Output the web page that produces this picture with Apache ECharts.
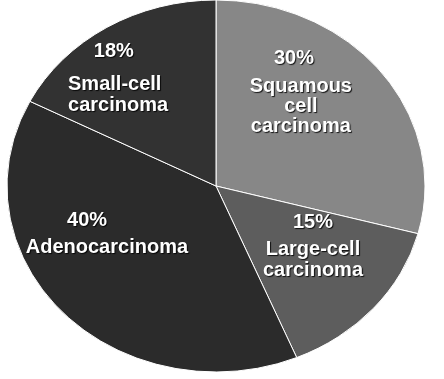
<!DOCTYPE html>
<html>
<head>
<meta charset="utf-8">
<script src="https://cdn.jsdelivr.net/npm/echarts@6/dist/echarts.min.js"></script>
<style>
  html, body { margin: 0; padding: 0; background: #ffffff; }
  #chart { width: 444px; height: 379px; }
</style>
</head>
<body>
<div id="chart"></div>
<script>
// ---- data ----
const categories = ['Squamous\ncell\ncarcinoma', 'Large-cell\ncarcinoma', 'Adenocarcinoma', 'Small-cell\ncarcinoma'];
const values = [30, 15, 40, 18];
const pctLabels = ['30%', '15%', '40%', '18%'];

// ---- styles / layout (not data) ----
const colors = ['#878787', '#5d5d5d', '#2b2b2b', '#323232'];
const geom = { cx: 216, cy: 186, rx: 209, ry: 186 };
// label anchors in units of the ellipse radii, relative to centre
const pctPos = [[0.373, -0.683], [0.464, 0.197], [-0.617, 0.183], [-0.489, -0.722]];
const namePos = [[0.406, -0.430], [0.464, 0.400], [-0.522, 0.333], [-0.708, -0.488]];
const nameAlign = ['center', 'center', 'center', 'left'];
const nameLineHeight = [20, 21, 21, 21.5];

const total = values.reduce((a, b) => a + b, 0);
const starts = [];
values.reduce((acc, v) => { starts.push(acc); return acc + v; }, 0);

const fontFamily = '"Liberation Sans", Arial, sans-serif';
const textBase = {
  fill: '#ffffff',
  fontSize: 20,
  fontWeight: 'bold',
  fontFamily: fontFamily,
  verticalAlign: 'middle',
  textShadowColor: 'rgba(0,0,0,0.85)',
  textShadowOffsetX: 1,
  textShadowOffsetY: 1,
  textShadowBlur: 1
};

function pt(angleFrac) {
  const a = angleFrac * Math.PI * 2; // clockwise from 12 o'clock
  return [geom.cx + geom.rx * Math.sin(a), geom.cy - geom.ry * Math.cos(a)];
}

const chart = echarts.init(document.getElementById('chart'), null, { renderer: 'canvas' });
chart.setOption({
  backgroundColor: '#ffffff',
  animation: false,
  series: [{
    type: 'custom',
    coordinateSystem: 'none',
    data: values.map((v, i) => ({ name: categories[i], value: v })),
    renderItem: function (params, api) {
      const i = params.dataIndex;
      const v = api.value(0);
      const a0 = starts[i] / total;
      const a1 = (starts[i] + v) / total;
      const p0 = pt(a0), p1 = pt(a1);
      const large = (a1 - a0) > 0.5 ? 1 : 0;
      const d = 'M' + geom.cx + ' ' + geom.cy +
        ' L' + p0[0] + ' ' + p0[1] +
        ' A' + geom.rx + ' ' + geom.ry + ' 0 ' + large + ' 1 ' + p1[0] + ' ' + p1[1] + ' Z';
      return {
        type: 'group',
        children: [
          {
            type: 'path',
            shape: { pathData: d },
            style: { fill: colors[i], stroke: '#ffffff', lineWidth: 1 },
            z2: 1
          },
          {
            type: 'text',
            z2: 10,
            style: Object.assign({}, textBase, {
              text: pctLabels[i],
              x: geom.cx + pctPos[i][0] * geom.rx,
              y: geom.cy + pctPos[i][1] * geom.ry,
              align: 'center'
            })
          },
          {
            type: 'text',
            z2: 10,
            style: Object.assign({}, textBase, {
              text: categories[i],
              x: geom.cx + namePos[i][0] * geom.rx,
              y: geom.cy + namePos[i][1] * geom.ry,
              align: nameAlign[i],
              lineHeight: nameLineHeight[i]
            })
          }
        ]
      };
    }
  }]
});
</script>
</body>
</html>
